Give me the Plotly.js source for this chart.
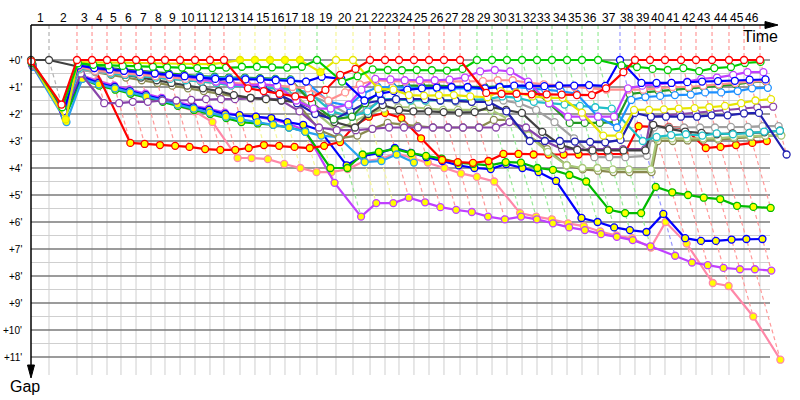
<!DOCTYPE html>
<html><head><meta charset="utf-8">
<script src="https://cdn.plot.ly/plotly-3.0.1.min.js"></script>
<style>html,body{margin:0;padding:0;background:#fff}#chart{width:800px;height:400px}</style>
</head><body><div id="chart"></div>
<script>
// Leader's elapsed time (minutes) at the end of each lap 0..46
const lapTime = [0, 2.37, 6.05, 8.03, 10.0, 11.84, 13.82, 15.79, 17.63, 19.61, 21.58, 23.55, 25.39, 27.5, 29.47, 31.45, 33.42, 35.39, 37.63, 40.13, 42.37, 44.61, 46.58, 48.42, 50.39, 52.37, 54.34, 56.45, 58.68, 60.66, 62.63, 64.61, 66.58, 68.55, 70.53, 72.5, 74.61, 77.5, 79.47, 81.45, 83.42, 85.53, 87.5, 89.61, 91.84, 93.82, 95.92];
const lapLabels = ['1','2','3','4','5','6','7','8','9','10','11','12','13','14','15','16','17','18','19','20','21','22','23','24','25','26','27','28','29','30','31','32','33','34','35','36','37','38','39','40','41','42','43','44','45','46'];
const gapTicks = [0,1,2,3,4,5,6,7,8,9,10,11];
const gapLabels = ["+0'","+1'","+2'","+3'","+4'","+5'","+6'","+7'","+8'","+9'","+10'","+11'"];

// Gap to the leader (minutes) per car, laps 0..n
const red1 = [0.05,1.65,0,0,0,0,0,0,0,0,0,0,0,1.05,1.15,1.25,1.35,1.41,1.11,0.55,0.33,0,0,0,0,0,0,0,1.22,1.25,1.25,1.27,1.27,1.28,1.3,1.3,1.05,0.45,0,0,0,0,0,0,0,0,0];
const red2 = [0.15,1.8,0.2,0.25,3.07,3.11,3.15,3.18,3.22,3.3,3.33,3.33,3.26,3.15,3.18,3.22,3.26,3.18,3.04,2.44,2.1,1.96,2.15,2.9,3.7,3.78,3.81,3.74,3.48,3.48,3.5,3.5,3.5,3.5,3.5,3.5,3.48,2.45,2.48,2.48,2.52,3.26,3.22,3.15,3.07,3.0];
const yellow1 = [0.05,2.2,0.08,0.1,0.1,0.1,0.12,0.12,0.13,0.13,0.14,0.15,0.1,0,0,0,0,0,0.45,0,0,1.07,1.1,1.3,1.32,1.3,1.3,1.35,1.38,1.15,1.2,1.35,1.4,1.4,1.95,2.8,2.8,1.85,1.85,1.83,1.8,1.78,1.75,1.7,1.6,1.5,1.45];
const green1 = [0.1,1.75,0.12,0.18,0.2,0.22,0.24,0.25,0.27,0.28,0.3,0.3,0.28,0.25,0.25,0.27,0.28,0.25,0,0.8,0.6,0.35,0.37,0.38,0.37,0.38,0.39,0.33,0,0,0,0,0,0,0,0,0,0.2,0.26,0.33,0.37,0.3,0.41,0.3,0.26,0.11,0.07];
const green2 = [0.15,2.1,0.7,0.95,1.1,1.25,1.4,1.55,1.7,1.85,2.0,2.15,2.3,2.35,2.4,2.5,2.65,4.0,4.0,3.5,3.4,3.3,3.45,3.55,3.65,3.8,3.85,3.9,3.78,3.8,4.0,4.07,4.26,4.5,5.55,5.67,5.67,4.7,4.9,5.0,5.1,5.15,5.4,5.44,5.48];
const blue1 = [0.1,1.9,0.2,0.3,0.35,0.4,0.45,0.5,0.55,0.6,0.65,0.7,0.72,0.72,0.72,0.75,0.78,0.8,0.62,0.7,1.5,1.25,1.15,1.1,1.05,1.02,1.0,1.0,1.05,1.0,0.95,0.95,0.97,0.95,0.95,0.93,0.96,0,0.85,0.85,0.85,0.82,0.8,0.78,0.77,0.73,0.72];
const blue2 = [0.2,2.0,0.6,0.85,1.0,1.15,1.3,1.45,1.6,1.75,1.85,2.0,2.04,2.1,2.15,2.3,2.4,2.6,3.9,3.55,3.45,3.26,3.44,3.6,3.74,3.9,4.0,4.04,3.85,4.0,4.15,4.48,5.85,6.0,6.2,6.3,6.37,5.7,6.6,6.7,6.7,6.65,6.63,6.63];
const navy1 = [0.1,1.9,0.25,0.35,0.4,0.45,0.5,0.55,0.6,0.65,0.7,0.75,0.85,0.95,1.0,1.3,1.6,2.0,2.2,1.9,1.6,1.5,1.45,1.45,1.45,1.5,1.5,1.55,1.55,1.9,3.0,3.0,3.0,3.02,3.03,3.05,2.96,1.96,2.1,2.1,2.1,2.1,2.05,2.05,1.98,1.96,3.5];
const violet1 = [0.1,1.9,0.2,0.3,0.35,0.4,0.45,0.5,0.55,0.6,0.7,0.8,0.9,0.95,0.9,0.95,1.5,1.8,1.8,1.65,1.1,0.7,0.72,0.75,0.75,0.75,0.73,0.65,0.42,0.37,0.42,0.8,1.6,2.1,2.1,2.1,2.1,1.05,0.95,0.9,0.85,0.8,0.7,0.65,0.55,0.45,0.45];
const violet2 = [0.2,2.05,0.55,0.8,0.95,1.1,1.25,1.4,1.55,1.7,1.8,1.95,2.05,2.1,2.2,2.35,2.6,4.55,5.8,5.3,5.3,5.1,5.27,5.45,5.55,5.63,5.8,5.9,5.8,5.9,6.05,6.2,6.3,6.45,6.55,6.67,6.9,7.25,7.5,7.6,7.7,7.75,7.75,7.8];
const salmon1 = [0.1,1.85,0.25,0.4,0.45,0.5,0.55,0.6,0.65,0.7,0.75,0.8,0.85,0.88,0.9,0.95,1.0,1.05,1.5,1.2,0.9,0.75,0.78,0.8,0.8,0.8,0.8,0.8,0.78,0.75,0.75,0.85,0.9,0.95,1.0,1.05,1.1,1.1,1.1,1.05,1.0,1.0,0.95,0.9,0.85,0.8,0.78];
const pink2 = [0.2,2.0,0.6,0.75,0.95,1.1,1.3,1.5,1.7,1.9,2.3,3.63,3.63,3.67,3.85,4.0,4.15,4.15,4.04,3.74,3.67,3.45,3.63,3.8,4.0,4.2,4.33,4.5,5.67,5.8,5.9,6.05,6.15,6.35,6.5,6.6,6.95,6.0,6.8,8.26,8.37,9.5,11.1];
const sky1 = [0.1,2.1,0.2,0.3,0.35,0.4,0.45,0.5,0.55,0.6,0.62,0.65,0.68,0.68,0.7,0.72,0.75,0.8,1.55,1.7,1.25,1.0,1.0,1.02,1.05,1.05,1.05,1.05,1.08,0.98,1.0,1.05,1.1,1.15,1.25,2.1,2.5,1.48,1.37,1.33,1.3,1.28,1.2,1.2,1.15,1.05,1.03];
const sky2 = [0.25,2.3,0.7,0.9,1.05,1.2,1.35,1.5,1.65,1.8,1.95,2.1,2.2,2.3,2.4,2.5,2.66,2.8,2.86,3.78,3.74,3.5,3.8];
const cyan1 = [0.1,2.0,0.3,0.4,0.5,0.55,0.6,0.65,0.7,0.75,0.8,0.85,0.95,0.98,1.0,1.05,1.1,1.2,1.9,2.1,1.9,1.45,1.45,1.5,1.5,1.5,1.5,1.48,1.45,1.35,1.4,1.55,1.6,1.65,1.7,1.75,1.8,3.0,2.85,2.78,2.75,2.8,2.72,2.75,2.7,2.65,2.62];
const gray1 = [0.15,1.9,0.35,0.45,0.5,0.55,0.6,0.65,0.7,0.75,0.8,0.85,0.9,0.95,1.0,1.05,1.15,1.3,1.6,2.1,1.8,1.5,1.5,1.45,1.5,1.5,1.55,1.55,1.5,1.5,1.6,1.85,2.3,2.9,3.6,3.6,3.6,3.55,2.5,2.5,2.5,2.5,2.5,2.48,2.48,2.45,2.45];
const black1 = [0,0,0.25,0.35,0.45,0.55,0.65,0.75,0.85,0.95,1.05,1.15,1.3,1.4,1.45,1.5,1.55,1.8,2.3,2.5,2.0,1.67,1.85,1.9,1.9,1.93,1.95,1.93,1.74,1.85,1.96,2.66,3.15,3.33,3.35,3.35,3.35,3.35,2.4,2.55,2.65,2.7,2.75,2.72,2.7,2.68,2.62];
const olive1 = [0.15,1.85,0.35,0.45,0.55,0.65,0.75,0.85,0.95,1.05,1.15,1.25,1.35,1.4,1.45,1.45,1.6,2.6,2.9,2.8,2.55,2.33,2.4,2.45,2.5,2.5,2.5,2.5,2.22,2.22,2.78,3.3,3.9,4.05,4.1,4.15,4.15,4.15,3.0,3.0,2.98,2.95,2.95,2.9,2.85,2.8,2.78];
const lime1 = [0.15,1.85,0.3,0.4,0.5,0.55,0.6,0.65,0.7,0.75,0.8,0.85,0.9,0.95,1.0,1.1,1.3,1.9,2.6,2.3,2.0,1.8,1.75,1.75,1.8,1.85,1.85,1.85,1.85,2.2,2.8,3.4,3.9,4.0,4.0,4.05,4.05,4.05,2.9,2.9,2.9,2.9,2.9,2.85,2.82,2.8,2.8];
const dkgreen1 = [0.1,1.8,0.15,0.25,0.3,0.35,0.4,0.45,0.5,0.55,0.6,0.62,0.65,0.65,0.67,0.7,0.72,1.6,2.2,2.1,1.6,1.2,1.0,0.95,0.95,0.95,0.98,1.0,1.0,0.98,1.0,1.0,1.6,2.33,2.33,2.33,2.3,1.26,1.2,1.15,1.1,1.05,1.0,0.95,0.9,0.82,0.8];
const purple1 = [0.2,2.0,0.5,1.6,1.6,1.55,1.55,1.5,1.5,1.48,1.45,1.45,1.45,1.42,1.4,1.5,1.9,2.5,2.6,2.6,2.55,2.5,2.5,2.5,2.5,2.5,2.5,2.5,2.5,2.3,2.5,3.0,3.3,3.3,3.3,3.3,3.3,3.3,2.1,2.05,2.0,1.95,1.9,1.85,1.8,1.75,1.73];

const cars = [
  {g: pink2, c: '#ff88a8', f: 'y'}, {g: violet2, c: '#c040ff', f: 'y'}, {g: blue2, c: '#0000ff', f: 'y'},
  {g: green2, c: '#00bb00', f: 'y'}, {g: sky2, c: '#28a0f0', f: 'y'}, {g: red2, c: '#ff0000', f: 'y'},
  {g: olive1, c: '#8a8a50', f: 'w'}, {g: lime1, c: '#a8c878', f: 'w'}, {g: purple1, c: '#8844aa', f: 'w'},
  {g: gray1, c: '#a0a0a0', f: 'w'}, {g: black1, c: '#404040', f: 'w'}, {g: cyan1, c: '#20c0c8', f: 'w'},
  {g: navy1, c: '#2020b0', f: 'w'}, {g: dkgreen1, c: '#229922', f: 'w'}, {g: sky1, c: '#1e90ff', f: 'w'},
  {g: salmon1, c: '#ff9090', f: 'w'}, {g: violet1, c: '#c040ff', f: 'w'}, {g: blue1, c: '#0000ff', f: 'w'},
  {g: yellow1, c: '#e6e600', f: 'y', hollowFrom: 19}, {g: green1, c: '#00cc00', f: 'w'}, {g: red1, c: '#ff0000', f: 'w'}
];

// pixel geometry of the picture (layout only)
const PXM = 7.6, PYM = 27, X0 = 31, Y0 = 60;
const px2x = p => (p - X0) / PXM, py2y = p => (p - Y0) / PYM;
const yTop = py2y(25), yGridEnd = py2y(375);

function pale(hex, k) {
  const n = parseInt(hex.slice(1), 16);
  const ch = [(n >> 16) & 255, (n >> 8) & 255, n & 255].map(v => Math.round(v + (255 - v) * k));
  return 'rgb(' + ch.join(',') + ')';
}

const traces = [];
// lap lines (dashed), coloured after the leader of the lap
for (let L = 1; L < lapTime.length; L++) {
  let lead = null, minG = Infinity, maxG = 0;
  cars.forEach(car => {
    const g = car.g[L];
    if (g === undefined || g === null) return;
    if (g < minG) { minG = g; lead = car; }
    if (g > maxG) maxG = g;
  });
  const t = lapTime[L];
  traces.push({x: [t, t, t + maxG], y: [yTop, 0, maxG], mode: 'lines', hoverinfo: 'skip',
    line: {color: pale(lead.c, 0.6), width: 1.2, dash: '4px,3px'}, showlegend: false});
}
// cars
cars.forEach(car => {
  const x = car.g.map((g, i) => lapTime[i] + g);
  const fills = car.g.map((g, i) => (car.f === 'y' && !(car.hollowFrom && i >= car.hollowFrom)) ? '#ffff00' : '#ffffff');
  traces.push({x: x, y: car.g, mode: 'lines+markers', hoverinfo: 'skip', showlegend: false, cliponaxis: false,
    line: {color: car.c, width: 2.2},
    marker: {size: 7, color: fills, line: {color: car.c, width: 1.3}}});
});

const shapes = [];
for (let L = 1; L < lapTime.length; L++) {
  shapes.push({type: 'line', layer: 'below', x0: lapTime[L], x1: lapTime[L], y0: 0, y1: yGridEnd, line: {color: '#cfcfcf', width: 1}});
}
for (let h = 0; h <= 11; h += 0.5) {
  const major = Number.isInteger(h);
  shapes.push({type: 'line', layer: 'below', x0: 0, x1: px2x(770), y0: h, y1: h,
    line: {color: major ? '#7a7a7a' : '#cfcfcf', width: major ? 1.3 : 1}});
}
// axes with arrows
shapes.push({type: 'line', layer: 'above', x0: 0, x1: px2x(768), y0: yTop, y1: yTop, line: {color: '#000', width: 1.5}});
shapes.push({type: 'path', layer: 'above', path: `M ${px2x(765)},${py2y(21.5)} L ${px2x(778)},${yTop} L ${px2x(765)},${py2y(28.5)} Z`, fillcolor: '#000', line: {color: '#000', width: 1}});
shapes.push({type: 'line', layer: 'above', x0: 0, x1: 0, y0: yTop, y1: py2y(368), line: {color: '#000', width: 1.5}});
shapes.push({type: 'path', layer: 'above', path: `M ${px2x(27.5)},${py2y(365)} L 0,${py2y(378)} L ${px2x(34.5)},${py2y(365)} Z`, fillcolor: '#000', line: {color: '#000', width: 1}});

const annotations = [];
const F = 'Liberation Sans, Arial, sans-serif';
lapLabels.forEach((lab, i) => {
  annotations.push({x: (lapTime[i] + lapTime[i + 1]) / 2, y: py2y(18), text: lab, showarrow: false,
    xanchor: 'center', yanchor: 'middle', font: {family: F, size: 12, color: '#000'}});
});
gapTicks.forEach((v, i) => {
  annotations.push({x: px2x(24), y: v, text: gapLabels[i], showarrow: false, xanchor: 'right', yanchor: 'middle',
    font: {family: F, size: 10, color: '#000'}});
});
annotations.push({x: px2x(760), y: py2y(36), text: 'Time', showarrow: false, xanchor: 'center', yanchor: 'middle', font: {family: F, size: 16, color: '#000'}});
annotations.push({x: px2x(25), y: py2y(386), text: 'Gap', showarrow: false, xanchor: 'center', yanchor: 'middle', font: {family: F, size: 16, color: '#000'}});

const layout = {
  width: 800, height: 400, margin: {l: 0, r: 0, t: 0, b: 0},
  paper_bgcolor: '#fff', plot_bgcolor: '#fff', showlegend: false, hovermode: false,
  xaxis: {range: [px2x(0), px2x(800)], visible: false, fixedrange: true},
  yaxis: {range: [py2y(400), py2y(0)], visible: false, fixedrange: true},
  shapes: shapes, annotations: annotations
};
Plotly.newPlot('chart', traces, layout, {staticPlot: true, displayModeBar: false});
</script></body></html>
